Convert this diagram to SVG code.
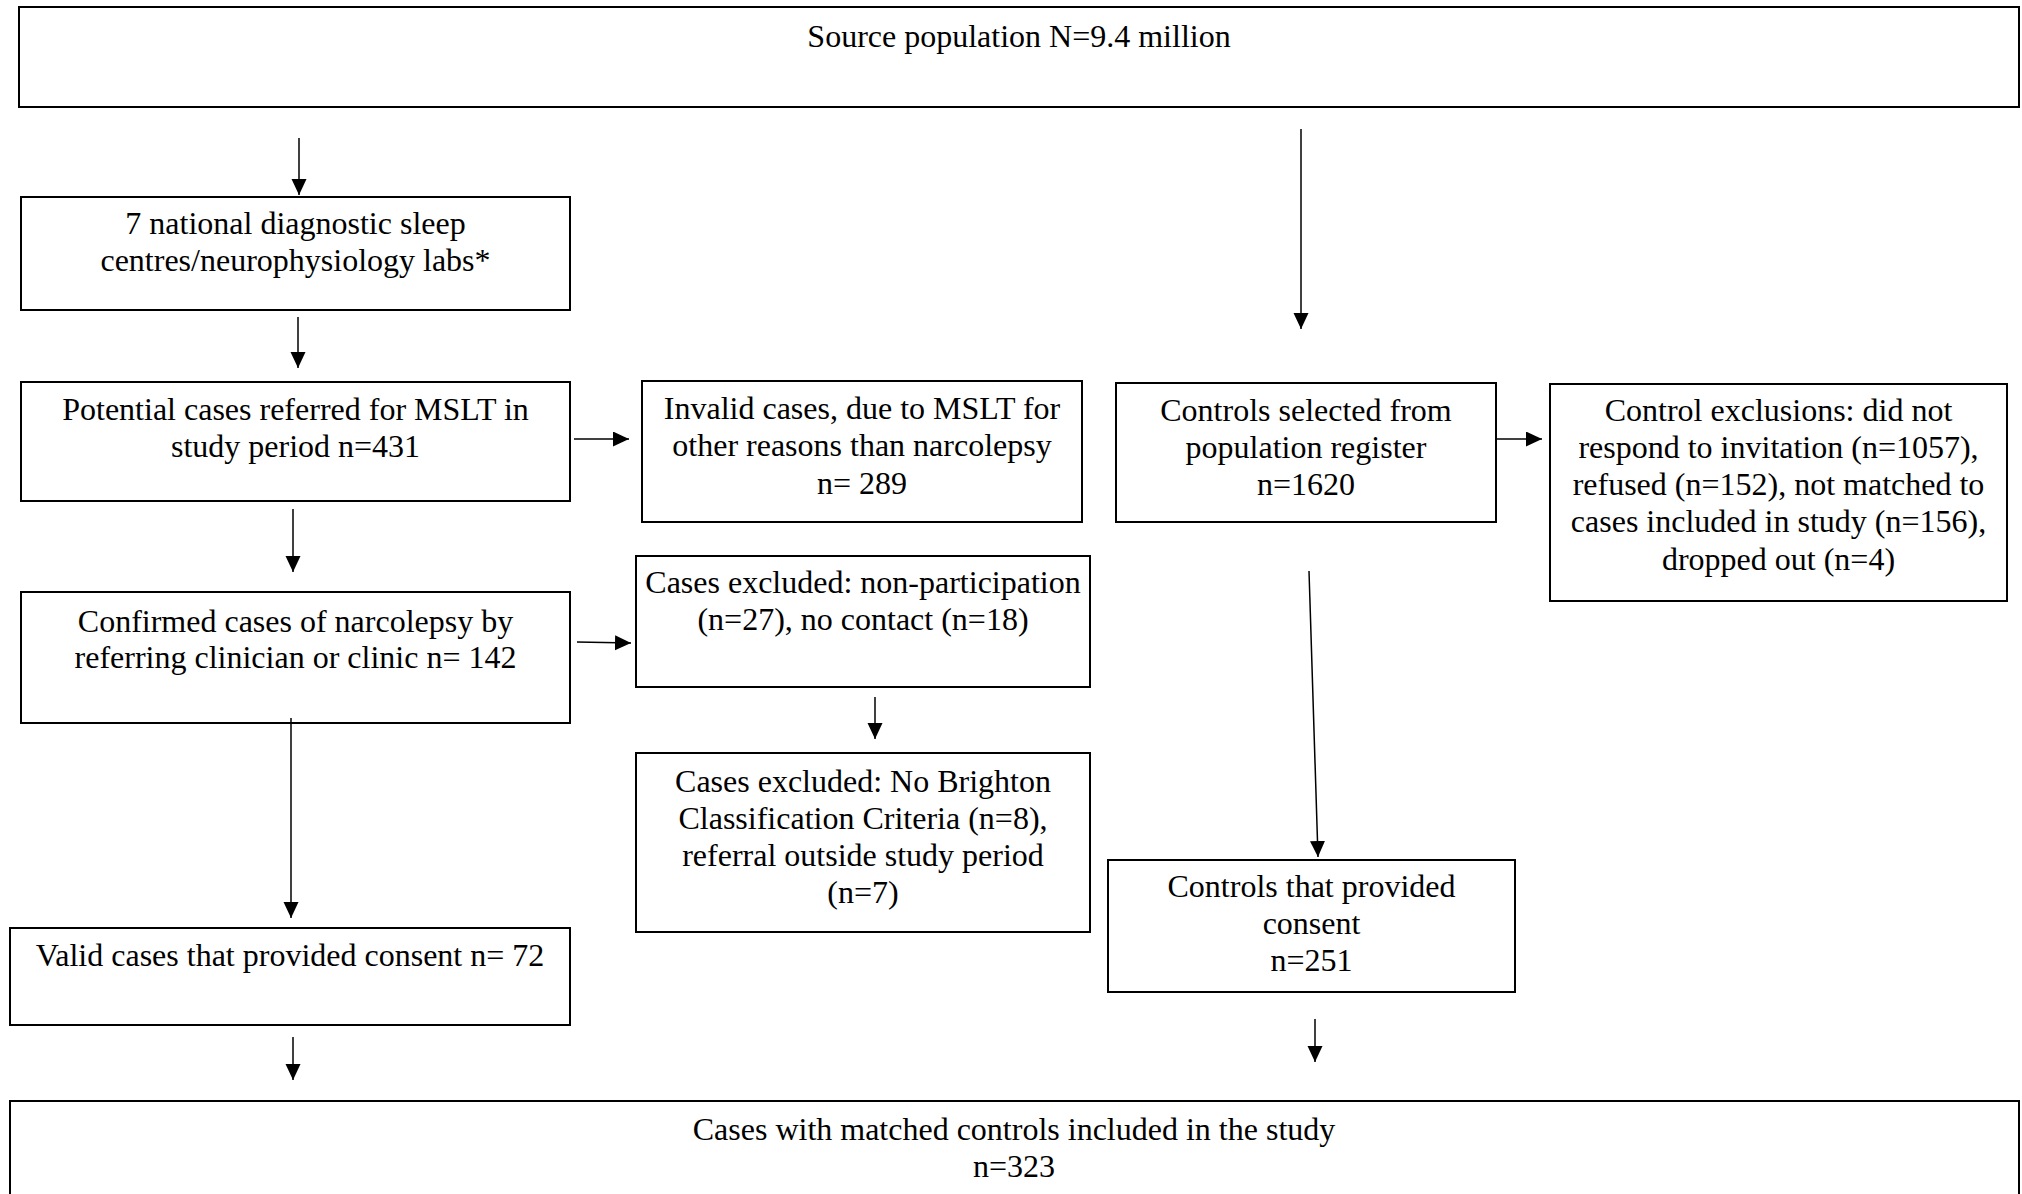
<svg xmlns="http://www.w3.org/2000/svg" width="2022" height="1194" viewBox="0 0 2022 1194">
<style>
.box{fill:#fff;stroke:#000;stroke-width:2}
.t{font-family:"Liberation Serif","Times New Roman",serif;font-size:32px;fill:#000;text-anchor:middle}
.c{stroke:#000;stroke-width:1.5;fill:none;marker-end:url(#ah)}
</style>
<defs>
<marker id="ah" markerUnits="userSpaceOnUse" markerWidth="16" markerHeight="16" refX="16" refY="7.5" orient="auto">
<path d="M0,0 L16,7.5 L0,15 z" fill="#000"/>
</marker>
</defs>
<rect width="2022" height="1194" fill="#fff"/>
<g id="source">
<rect class="box" x="19" y="7" width="2000" height="100"/>
<text class="t" x="1019" y="47">Source population N=9.4 million</text>
</g>
<g id="labs">
<rect class="box" x="21" y="197" width="549" height="113"/>
<text class="t" x="295.5" y="234">7 national diagnostic sleep</text>
<text class="t" x="295.5" y="271">centres/neurophysiology labs*</text>
</g>
<g id="potential">
<rect class="box" x="21" y="382" width="549" height="119"/>
<text class="t" x="295.5" y="420">Potential cases referred for MSLT in</text>
<text class="t" x="295.5" y="457">study period n=431</text>
</g>
<g id="invalid">
<rect class="box" x="642" y="381" width="440" height="141"/>
<text class="t" x="862" y="419">Invalid cases, due to MSLT for</text>
<text class="t" x="862" y="456">other reasons than narcolepsy</text>
<text class="t" x="862" y="494">n= 289</text>
</g>
<g id="controls-selected">
<rect class="box" x="1116" y="383" width="380" height="139"/>
<text class="t" x="1306" y="421">Controls selected from</text>
<text class="t" x="1306" y="458">population register</text>
<text class="t" x="1306" y="495">n=1620</text>
</g>
<g id="control-exclusions">
<rect class="box" x="1550" y="384" width="457" height="217"/>
<text class="t" x="1778.5" y="421">Control exclusions: did not</text>
<text class="t" x="1778.5" y="458">respond to invitation (n=1057),</text>
<text class="t" x="1778.5" y="495">refused (n=152), not matched to</text>
<text class="t" x="1778.5" y="532">cases included in study (n=156),</text>
<text class="t" x="1778.5" y="570">dropped out (n=4)</text>
</g>
<g id="confirmed">
<rect class="box" x="21" y="592" width="549" height="131"/>
<text class="t" x="295.5" y="632">Confirmed cases of narcolepsy by</text>
<text class="t" x="295.5" y="668">referring clinician or clinic n= 142</text>
</g>
<g id="nonparticipation">
<rect class="box" x="636" y="556" width="454" height="131"/>
<text class="t" x="863" y="593">Cases excluded: non-participation</text>
<text class="t" x="863" y="630">(n=27), no contact (n=18)</text>
</g>
<g id="brighton">
<rect class="box" x="636" y="753" width="454" height="179"/>
<text class="t" x="863" y="792">Cases excluded: No Brighton</text>
<text class="t" x="863" y="829">Classification Criteria (n=8),</text>
<text class="t" x="863" y="866">referral outside study period</text>
<text class="t" x="863" y="903">(n=7)</text>
</g>
<g id="valid">
<rect class="box" x="10" y="928" width="560" height="97"/>
<text class="t" x="290" y="966">Valid cases that provided consent n= 72</text>
</g>
<g id="controls-consent">
<rect class="box" x="1108" y="860" width="407" height="132"/>
<text class="t" x="1311.5" y="897">Controls that provided</text>
<text class="t" x="1311.5" y="934">consent</text>
<text class="t" x="1311.5" y="971">n=251</text>
</g>
<g id="included">
<rect class="box" x="10" y="1101" width="2009" height="130"/>
<text class="t" x="1014" y="1140">Cases with matched controls included in the study</text>
<text class="t" x="1014" y="1177">n=323</text>
</g>
<g id="connectors">
<line class="c" x1="299" y1="138" x2="299" y2="195"/>
<line class="c" x1="298" y1="317" x2="298" y2="368"/>
<line class="c" x1="293" y1="509" x2="293" y2="572"/>
<line class="c" x1="574" y1="439" x2="629" y2="439"/>
<line class="c" x1="577" y1="642" x2="631" y2="643"/>
<line class="c" x1="875" y1="697" x2="875" y2="739"/>
<line class="c" x1="291" y1="718" x2="291" y2="918"/>
<line class="c" x1="293" y1="1037" x2="293" y2="1080"/>
<line class="c" x1="1301" y1="129" x2="1301" y2="329"/>
<line class="c" x1="1496" y1="439" x2="1542" y2="439"/>
<line class="c" x1="1309" y1="571" x2="1318" y2="857"/>
<line class="c" x1="1315" y1="1019" x2="1315" y2="1062"/>
</g>
</svg>
